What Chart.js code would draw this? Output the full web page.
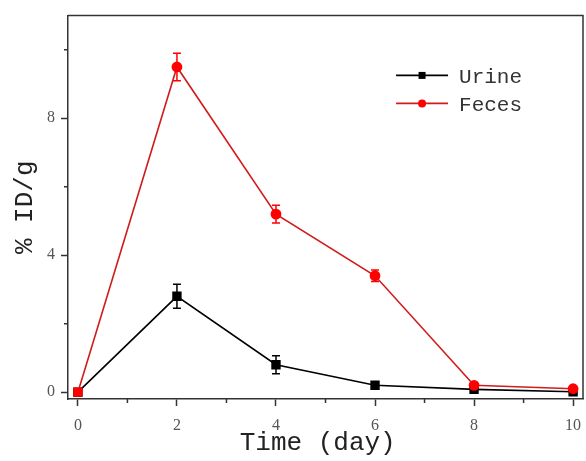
<!DOCTYPE html>
<html>
<head>
<meta charset="utf-8">
<script src="https://cdn.jsdelivr.net/npm/chart.js@4.4.0/dist/chart.umd.min.js"></script>
<style>
  html, body { margin: 0; padding: 0; background: #fff; }
</style>
</head>
<body>
<canvas id="myChart" width="586" height="461"></canvas>
<script>
const days = [0, 2, 4, 6, 8, 10];
const urine = [0, 2.8, 0.8, 0.2, 0.08, 0.01];
const urineErr = [0, 0.35, 0.26, 0.04, 0.03, 0.02];
const feces = [0, 9.5, 5.2, 3.4, 0.2, 0.1];
const fecesErr = [0, 0.4, 0.26, 0.17, 0.05, 0.05];
const xTicks = [0, 2, 4, 6, 8, 10];
const xMinorTicks = [1, 3, 5, 7, 9];
const yTicks = [0, 4, 8];
const yMinorTicks = [2, 6, 10];

const axisColor = '#333';
const tickFont = { family: 'Liberation Serif', size: 16 };
const titleFont = { family: 'Liberation Mono', size: 26 };

// vertical error bars with caps, drawn under the lines
const errorBars = {
  id: 'errorBars',
  beforeDatasetsDraw(chart) {
    const { ctx, scales: { x, y } } = chart;
    chart.data.datasets.forEach((ds) => {
      if (!ds.errors) return;
      ctx.save();
      ctx.strokeStyle = ds.pointBorderColor;
      ctx.lineWidth = 1.5;
      ds.data.forEach((pt, i) => {
        const e = ds.errors[i];
        if (!e) return;
        const px = x.getPixelForValue(pt.x);
        const top = y.getPixelForValue(pt.y + e);
        const bot = y.getPixelForValue(pt.y - e);
        ctx.beginPath();
        ctx.moveTo(px, top); ctx.lineTo(px, bot);
        ctx.moveTo(px - 4, top); ctx.lineTo(px + 4, top);
        ctx.moveTo(px - 4, bot); ctx.lineTo(px + 4, bot);
        ctx.stroke();
      });
      ctx.restore();
    });
  }
};

// closing box on top/right plus short minor ticks
const frame = {
  id: 'frame',
  afterDraw(chart) {
    const { ctx, chartArea: a, scales: { x, y } } = chart;
    ctx.save();
    ctx.strokeStyle = axisColor;
    ctx.lineWidth = 1.5;
    ctx.beginPath();
    ctx.moveTo(a.left, a.top);
    ctx.lineTo(a.right, a.top);
    ctx.lineTo(a.right, a.bottom);
    xMinorTicks.forEach((v) => {
      const px = x.getPixelForValue(v);
      ctx.moveTo(px, a.bottom); ctx.lineTo(px, a.bottom + 4);
    });
    yMinorTicks.forEach((v) => {
      const py = y.getPixelForValue(v);
      ctx.moveTo(a.left, py); ctx.lineTo(a.left - 4, py);
    });
    ctx.stroke();
    ctx.restore();
  }
};

// legend entries drawn as line + marker, inside the plot
const lineLegend = {
  id: 'lineLegend',
  afterDraw(chart) {
    const { ctx, chartArea: a } = chart;
    const x0 = a.left + a.width * 0.637;
    let yRow = a.top + a.height * 0.156;
    ctx.save();
    chart.data.datasets.forEach((ds) => {
      ctx.strokeStyle = ds.borderColor;
      ctx.lineWidth = 1.6;
      ctx.beginPath();
      ctx.moveTo(x0, yRow);
      ctx.lineTo(x0 + 52, yRow);
      ctx.stroke();
      ctx.fillStyle = ds.pointBorderColor;
      ctx.beginPath();
      if (ds.legendMarker === 'rect') {
        ctx.rect(x0 + 22.5, yRow - 3.5, 7, 7);
      } else {
        ctx.arc(x0 + 26, yRow, 4, 0, Math.PI * 2);
      }
      ctx.fill();
      ctx.fillStyle = '#333';
      ctx.font = '21px "Liberation Mono"';
      ctx.textBaseline = 'alphabetic';
      ctx.fillText(ds.label, x0 + 63, yRow + 8);
      yRow += 28;
    });
    ctx.restore();
  }
};

const config = {
  type: 'line',
  data: {
    datasets: [
      {
        label: 'Urine',
        data: days.map((d, i) => ({ x: d, y: urine[i] })),
        errors: urineErr,
        borderColor: '#000',
        borderWidth: 1.6,
        pointStyle: 'rect',
        pointRadius: 5.5,
        pointBackgroundColor: '#000',
        pointBorderColor: '#000',
        legendMarker: 'rect',
        order: 1
      },
      {
        label: 'Feces',
        data: days.map((d, i) => ({ x: d, y: feces[i] })),
        errors: fecesErr,
        borderColor: '#d01c1c',
        borderWidth: 1.6,
        pointStyle: (c) => c.dataIndex === 0 ? 'rect' : 'circle',
        pointRadius: (c) => c.dataIndex === 0 ? 5.5 : 4.6,
        pointBackgroundColor: '#ff0000',
        pointBorderColor: '#ff0000',
        legendMarker: 'circle',
        order: 0
      }
    ]
  },
  options: {
    responsive: false,
    animation: false,
    layout: { autoPadding: false, padding: { top: 14, right: 3 } },
    plugins: {
      legend: { display: false },
      tooltip: { enabled: false }
    },
    scales: {
      x: {
        type: 'linear',
        min: -0.2,
        max: 10.2,
        afterBuildTicks: (s) => { s.ticks = xTicks.map((v) => ({ value: v })); },
        afterFit: (s) => { s.height = 62; s.paddingLeft = 0; s.paddingRight = 0; },
        grid: { drawOnChartArea: false, tickLength: 7, tickColor: axisColor, tickWidth: 1.5 },
        border: { color: axisColor, width: 1.5 },
        ticks: { font: tickFont, color: '#555', padding: 10, maxRotation: 0 },
        title: { display: true, text: 'Time (day) ', font: titleFont, color: '#222', padding: { top: 0, bottom: 2 } }
      },
      y: {
        min: -0.2,
        max: 11,
        afterBuildTicks: (s) => { s.ticks = yTicks.map((v) => ({ value: v })); },
        afterFit: (s) => { s.width = 68; },
        grid: { drawOnChartArea: false, tickLength: 7, tickColor: axisColor, tickWidth: 1.5 },
        border: { color: axisColor, width: 1.5 },
        ticks: { font: tickFont, color: '#555', padding: 6 },
        title: { display: true, text: '% ID/g', font: titleFont, color: '#222', padding: { top: 10, bottom: 0 } }
      }
    }
  },
  plugins: [errorBars, frame, lineLegend]
};

const myChart = new Chart(document.getElementById('myChart'), config);
</script>
</body>
</html>
